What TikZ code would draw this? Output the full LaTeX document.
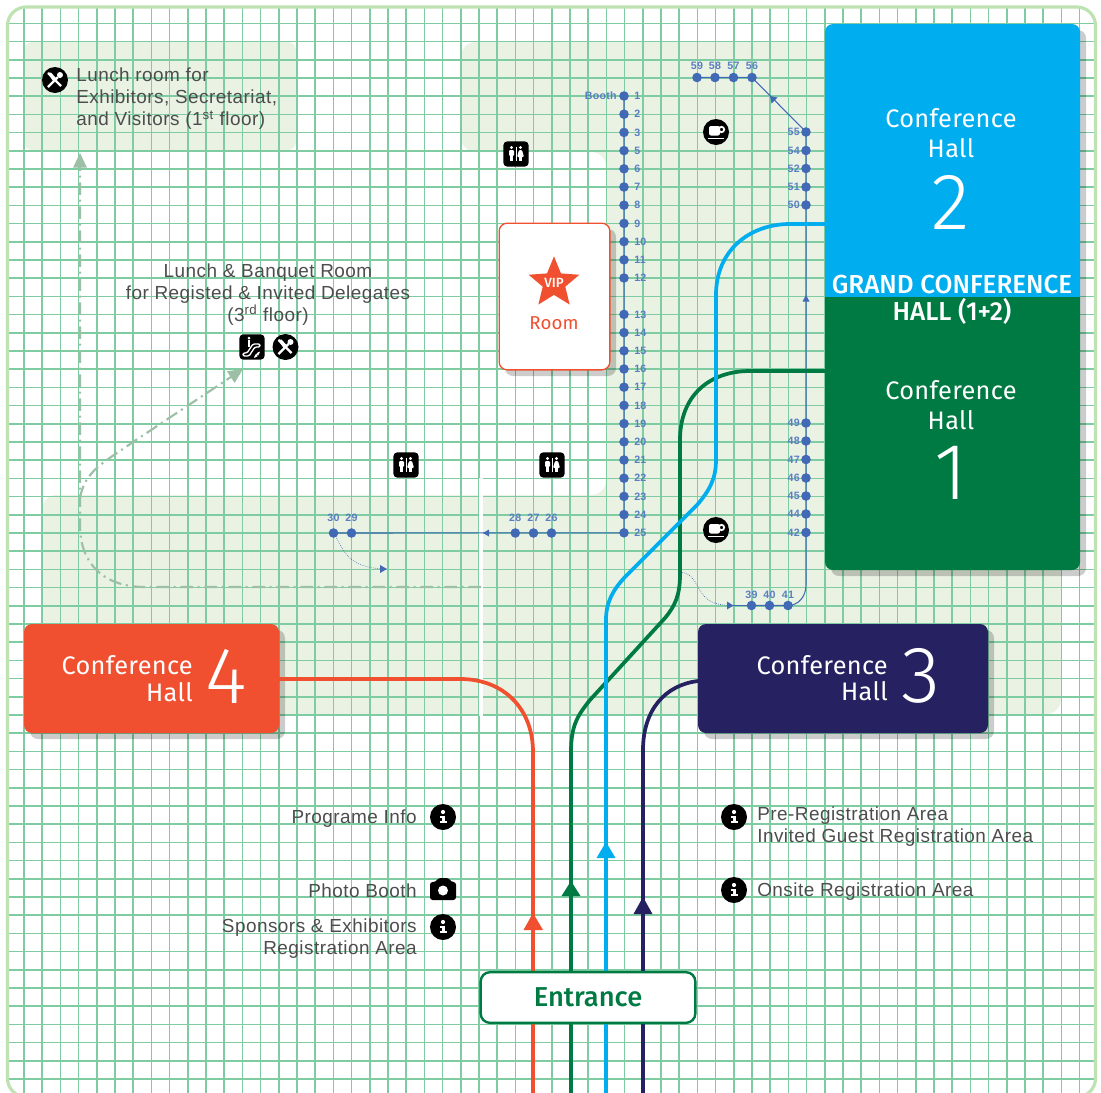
\documentclass[tikz,border=0pt]{standalone}
\usepackage{fontspec}
\setmainfont{Liberation Sans}[LetterSpace=2.5]
\newfontfamily\hallf{Fira Sans}[LetterSpace=1.2]
\newfontfamily\halll{Fira Sans Light}
\newfontfamily\hallb{Fira Sans Medium}
\usetikzlibrary{arrows.meta,shapes.geometric}
\definecolor{frameC}{HTML}{BEE2B2}
\definecolor{gridC}{HTML}{80CCA2}
\definecolor{zoneC}{HTML}{EAF3E3}
\definecolor{txtC}{HTML}{4D4D4D}
\definecolor{boothC}{HTML}{4169B5}
\definecolor{boothT}{HTML}{5A7EC2}
\definecolor{dashC}{HTML}{9CBFA6}
\definecolor{hallB}{HTML}{00AEEF}
\definecolor{hallG}{HTML}{007A43}
\definecolor{hallO}{HTML}{F15030}
\definecolor{hallN}{HTML}{262261}
\tikzset{
  zone/.style={fill=zoneC,draw=none},
  info/.style={font=\fontsize{14.2}{16.5}\selectfont,text=txtC,inner sep=0pt,align=left},
  inforight/.style={info,align=right},
  infomid/.style={info,align=center},
  bdot/.style={circle,fill=boothC,draw=none,minimum size=7.2pt,inner sep=0pt},
  blabel/.style={font=\fontsize{8}{9}\selectfont\bfseries,text=boothT,inner sep=0pt},
  bline/.style={draw=boothC,line width=0.8pt},
  bthin/.style={draw=boothC,line width=0.5pt,densely dotted},
  dashroute/.style={draw=dashC,line width=1.6pt,dash pattern=on 9.5pt off 3.5pt on 1.5pt off 3.5pt},
  route/.style={line width=2.8pt},
  hallbox/.style={rounded corners=6pt,inner sep=0pt},
  halltxt/.style={font=\hallf\fontsize{19}{23}\selectfont,text=white,inner sep=0pt,align=center},
  hallnum/.style={font=\halll\fontsize{60}{60}\selectfont,text=white,inner sep=0pt},
  shad/.style={fill=black,fill opacity=.2,rounded corners=6pt,draw=none},
  iconC/.style={circle,fill=black,minimum size=19.5pt,inner sep=0pt},
  iconS/.style={rectangle,rounded corners=3pt,fill=black,minimum size=19pt,inner sep=0pt},
  pics/cutlery/.style={code={
    \draw[white,line width=1.7pt] (-7,-7)--(6,6);
    \draw[white,line width=1.7pt] (3,-3)--(-7,7);
    \fill[white] (5,-5) circle (3);
    \fill[white] (-7.5,-7.5) -- (-4,-7.5) -- (1,-2) -- (-2,1) -- cycle;
  }},
  pics/coffee/.style={code={
    \fill[white,rounded corners=1.5pt] (-7,-6) rectangle (4,3.5);
    \draw[white,line width=1.3pt] (5.5,-2.5) circle (2.7);
    \fill[white] (-8.5,5.5) rectangle (7.5,7);
  }},
  pics/infoi/.style={code={
    \fill[white] (0,-5) circle (2.1);
    \fill[white] (-3,-1.5) rectangle (1.8,1);
    \fill[white] (-1.2,-1.5) rectangle (1.8,5);
    \fill[white] (-3.2,3.5) rectangle (3.6,6);
  }},
  pics/wc/.style={code={
    \fill[white] (-4.5,-6.5) circle (1.7);
    \fill[white,rounded corners=.8pt] (-7,-4) rectangle (-2,2);
    \fill[white] (-6,1) rectangle (-3,7);
    \fill[white] (4.5,-6.5) circle (1.7);
    \fill[white,rounded corners=.8pt] (3,-4) -- (6,-4) -- (8,3) -- (1,3) -- cycle;
    \fill[white] (3,2) rectangle (6,7);
    \draw[white,line width=.5pt] (0,-7) -- (0,7);
  }},
  pics/escal/.style={code={
    \draw[white,line width=1pt,line join=round,rounded corners=1pt]
      (-9,6) -- (-5,6) -- (1,-3) -- (8,-3) -- (8,0) -- (3,0) -- (-3,9) -- (-9,9) -- cycle;
    \fill[white] (-3,-9) circle (1.5);
    \fill[white] (-4,-7) rectangle (-2,0);
    \draw[white,line width=.9pt,-{Stealth[length=3pt]}] (3,10) -- (8,4.5);
    \draw[white,line width=.9pt,-{Stealth[length=3pt]}] (7,5.5) -- (2,11);
  }},
}
\begin{document}
\begin{tikzpicture}[x=0.75pt,y=-0.75pt]
\useasboundingbox (0,0) rectangle (1101,1093);
\fill[white] (0,0) rectangle (1101,1093);
% --- floor zones
\fill[zone,rounded corners=6pt] (24,42) rectangle (296,150);
\fill[zone,rounded corners=11pt] (461,42) -- (900,42) -- (900,400) -- (1061,400) -- (1061,714)
  -- (42,714) -- (42,495) -- (606,495) -- (606,152) -- (461,152) -- cycle;
% --- grid
\begin{scope}
\clip[rounded corners=14pt] (7.5,7) rectangle (1095.5,1097);
\foreach \i in {0,...,58}{
  \draw[gridC,line width=1.2pt] (24+18.2*\i,0) -- (24+18.2*\i,1100);
  \draw[gridC,line width=1.2pt] (0,23.3+18.2*\i) -- (1100,23.3+18.2*\i);
}
\end{scope}
\draw[frameC,line width=2.4pt,rounded corners=14pt] (7.5,7) rectangle (1095.5,1097);
\draw[white,line width=2.6pt] (481,478) -- (481,716);
% --- text
\node[info,anchor=north west] (t_lunch) at (76,68) {Lunch room for\\Exhibitors, Secretariat,\\and Visitors (1\textsuperscript{st} floor)};
\node[infomid] (t_banq) at (268,294.5) {Lunch \& Banquet Room\\for Registed \& Invited Delegates\\(3\textsuperscript{rd} floor)};
\node[inforight,anchor=east] (t_prog) at (417,819) {Programe Info};
\node[inforight,anchor=east] (t_photo) at (417,890.5) {Photo Booth};
\node[inforight,anchor=east] (t_spons) at (417,939) {Sponsors \& Exhibitors\\Registration Area};
\node[info,anchor=west] (t_pre) at (757,827) {Pre-Registration Area\\Invited Guest Registration Area};
\node[info,anchor=west] (t_onsite) at (757,891.5) {Onsite Registration Area};
% --- booth labels
\foreach \n/\k in {1/0,2/1,3/2,5/3,6/4,7/5,8/6,9/7,10/8,11/9,12/10,13/12,14/13,15/14,16/15,17/16,18/17,19/18,20/19,21/20,22/21,23/22,24/23,25/24}{
  \node[blabel,anchor=west] (lb\n) at (634,96+18.2*\k) {\n};
}
\node[blabel,anchor=east] (lbooth) at (617,96) {Booth};
\foreach \n/\x in {26/551.5,27/533.5,28/515.3,29/351.5,30/333.5}{
  \node[blabel] (lb\n) at (\x,518) {\n};
}
\foreach \n/\x in {59/697,58/715,57/733.5,56/752}{
  \node[blabel] (lb\n) at (\x,66) {\n};
}
\foreach \n/\x in {39/751.5,40/769.5,41/788}{
  \node[blabel] (lb\n) at (\x,595) {\n};
}
\foreach \n/\y in {55/132,54/150.5,52/168.5,51/187,50/205,49/423,48/441,47/459.5,46/478,45/496,44/514,42/532.5}{
  \node[blabel,anchor=east] (lb\n) at (800,\y) {\n};
}
% --- booths
\foreach \n/\k in {1/0,2/1,3/2,5/3,6/4,7/5,8/6,9/7,10/8,11/9,12/10,13/12,14/13,15/14,16/15,17/16,18/17,19/18,20/19,21/20,22/21,23/22,24/23,25/24}{
  \node[bdot] (b\n) at (624,96+18.2*\k) {};
}
\foreach \n/\x in {26/551.5,27/533.5,28/515.3,29/351.5,30/333.5}{
  \node[bdot] (b\n) at (\x,533) {};
}
\foreach \n/\x in {59/697,58/715,57/733.5,56/752}{
  \node[bdot] (b\n) at (\x,77.5) {};
}
\foreach \n/\x in {39/751.5,40/769.5,41/788}{
  \node[bdot] (b\n) at (\x,605.5) {};
}
\foreach \n/\y in {55/132,54/150.5,52/168.5,51/187,50/205,49/423,48/441,47/459.5,46/478,45/496,44/514,42/532.5}{
  \node[bdot] (b\n) at (806,\y) {};
}
\draw[bline] (b1.center) -- (b25.center) -- (b30.center);
\draw[bline] (b59.center) -- (b56.center) -- (b55.center) -- (b42.center)
  -- (806,585) .. controls (806,597) and (798,605.5) .. (b41.center) -- (b39.center);
\coordinate (tipA) at (387,569);
\coordinate (tipB) at (733,605.5);
\coordinate (tailB) at (680,572);
\draw[bline] (b39.center) -- (tipB);
\draw[bthin] (b30.center) .. controls (345,550) and (345,568) .. (tipA);
\draw[bthin] (tailB) .. controls (705,575) and (690,606) .. (tipB);
\fill[boothC] (483,533) -- (489,529.5) -- (489,536.5) -- cycle;
\fill[boothC] (387,569) -- (380,565) -- (380,573) -- cycle;
\fill[boothC] (733.5,605.5) -- (727,601.5) -- (727,609.5) -- cycle;
\fill[boothC] (770,96) -- (777.5,97.5) -- (771.5,103.5) -- cycle;
\fill[boothC] (806,295) -- (802.5,301.5) -- (809.5,301.5) -- cycle;
% --- dash-dot routes
\coordinate (dStart) at (481,587);
\coordinate (dUp) at (80,153);
\coordinate (dFork) at (80,498);
\coordinate (dRoom) at (243,369);
\draw[dashroute,-{Triangle[length=11pt,width=10pt]}] (dStart) -- (145,587) .. controls (105,587) and (80,565) .. (80,525) -- (dUp);
\draw[dashroute,-{Triangle[length=11pt,width=10pt]}] (dFork) .. controls (85,470) and (105,462) .. (133,442) -- (dRoom);
% --- shadows
\fill[shad] (831,30) rectangle (1086,576);
\fill[shad] (30,630) rectangle (285,739);
\fill[shad] (704,630) rectangle (994,739);
\fill[shad] (505,229) rectangle (616,376);
% --- coloured routes
\coordinate (e1) at (533,1093);
\coordinate (e2) at (571,1093);
\coordinate (e3) at (606,1093);
\coordinate (e4) at (643,1093);
\coordinate (h4out) at (279,679);
\coordinate (h3in) at (698,681);
\coordinate (h1in) at (825,371);
\coordinate (h2in) at (825,224);
\draw[route,hallO] (e1) -- (533,752) .. controls (533,710) and (505,679) .. (460,679) -- (h4out);
\fill[hallO] (533,913) -- (543,930) -- (523.5,930) -- cycle;
\draw[route,hallG] (e2) -- (571,752) .. controls (571,725) and (578,715) .. (590,700) -- (665,618) .. controls (675,606) and (680,595) .. (680,575) -- (680,440) .. controls (680,395) and (710,371) .. (750,371) -- (h1in);
\fill[hallG] (571,881) -- (580.5,896) -- (561.5,896) -- cycle;
\draw[route,hallB] (e3) -- (606,620) .. controls (606,602) and (613,590) .. (625,577) -- (697,505) .. controls (710,490) and (716,478) .. (716,460) -- (716,295) .. controls (716,250) and (750,224) .. (790,224) -- (h2in);
\fill[hallB] (606,842) -- (615.5,858) -- (596.5,858) -- cycle;
\draw[route,hallN] (e4) -- (643,750) .. controls (643,710) and (665,685) .. (h3in);
\fill[hallN] (643,897) -- (652.5,914) -- (633.5,914) -- cycle;
% --- halls
\path[fill=hallB,rounded corners=6pt] (825,297) -- (825,24) -- (1080,24) -- (1080,297);
\path[fill=hallB] (825,280) rectangle (1080,297.5);
\path[fill=hallG,rounded corners=6pt] (825,297) -- (825,570) -- (1080,570) -- (1080,297);
\path[fill=hallG] (825,297) rectangle (1080,310);
\node[hallbox,fill=hallO,minimum width=191.25pt,minimum height=81.75pt] (hall4) at (151.5,678.5) {};
\node[hallbox,fill=hallN,minimum width=217.5pt,minimum height=81.75pt] (hall3) at (843,678.5) {};
\node[halltxt] (h2t) at (951,133) {Conference\\[-1pt]Hall};
\node[hallnum] (h2n) at (951,202) {2};
\node[halltxt] (h1t) at (951,405) {Conference\\[-1pt]Hall};
\node[hallnum] (h1n) at (951,473) {1};
\node[font=\hallb\fontsize{19.5}{22}\selectfont,text=white,inner sep=0pt] (gh1) at (952,285) {GRAND CONFERENCE};
\node[font=\hallb\fontsize{19.5}{21}\selectfont,text=white,inner sep=0pt] (gh2) at (952,311) {HALL (1+2)};
\node[halltxt,align=right,anchor=east] (h4t) at (193,678.5) {Conference\\[-3.2pt]Hall};
\node[hallnum] (h4n) at (226,676) {4};
\node[halltxt,align=right,anchor=east] (h3t) at (888,678) {Conference\\[-3.2pt]Hall};
\node[hallnum] (h3n) at (920.5,676) {3};
% --- VIP room
\node[rectangle,rounded corners=6pt,fill=white,draw=hallO,line width=1pt,minimum width=83pt,minimum height=110pt,inner sep=0pt] (vip) at (554.5,296.5) {};
\node[star,star points=5,star point ratio=2.25,fill=hallO,draw=none,minimum size=40pt,inner sep=0pt] (vstar) at (554,283) {};
\node[font=\hallb\fontsize{10}{11}\selectfont,text=white,inner sep=0pt] (viptxt) at (554,283) {VIP};
\node[font=\hallf\fontsize{14}{15}\selectfont,text=hallO,inner sep=0pt] (roomtxt) at (554,323) {Room};
% --- entrance
\node[rectangle,rounded corners=7pt,fill=white,draw=hallG,line width=1.8pt,minimum width=161pt,minimum height=38pt,inner sep=0pt,font=\hallb\fontsize{20.5}{22}\selectfont,text=hallG] (ent) at (588,997.5) {Entrance};
% --- icons
\foreach \nm/\x/\y in {c1/55/80,c2/285.5/347}{
  \node[iconC] (\nm) at (\x,\y) {};
  \pic at (\nm) {cutlery};
}
\foreach \nm/\x/\y in {k1/716/132,k2/716/530}{
  \node[iconC] (\nm) at (\x,\y) {};
  \pic at (\nm) {coffee};
}
\foreach \nm/\x/\y in {i1/443/817,i2/443/927,i3/734/817,i4/734/890}{
  \node[iconC] (\nm) at (\x,\y) {};
  \pic at (\nm) {infoi};
}
\foreach \nm/\x/\y in {w1/516/154,w2/406/465,w3/552/465}{
  \node[iconS] (\nm) at (\x,\y) {};
  \pic at (\nm) {wc};
}
\node[iconS] (esc) at (252,347) {};
\pic at (esc) {escal};
\fill[black,rounded corners=2pt] (430,882) -- (436,882) -- (438,878) -- (449,878) -- (451,882) -- (456,882) -- (456,900) -- (430,900) -- cycle;
\fill[white] (443,890.5) circle (5);
\end{tikzpicture}
\end{document}
